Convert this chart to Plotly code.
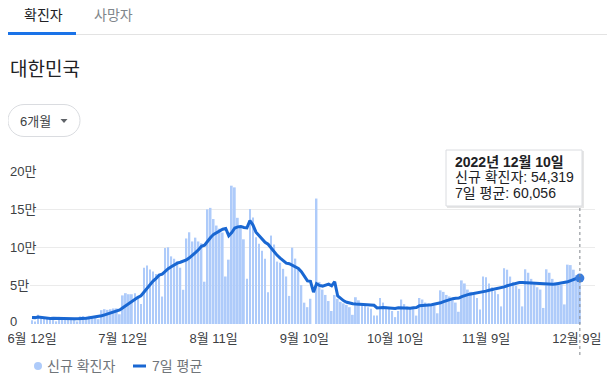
import plotly.graph_objects as go
import pandas as pd

# ---------------- data ----------------
start_date = "2022-06-12"

daily_cases = [
    5000, 3200, 12200, 9400, 8000, 7200, 6100,
    6100, 3500, 9300, 7900, 7500, 6800, 6200,
    6200, 3400, 9900, 10500, 9600, 10700, 10000,
    10000, 6300, 18100, 19400, 18500, 19300, 20300,
    20400, 12700, 37400, 40300, 38900, 38900, 40300,
    35900, 26300, 73600, 76400, 71200, 68600, 65400,
    65400, 35900, 99300, 100300, 88400, 85300, 82000,
    73600, 44700, 111800, 119900, 107900, 112900, 107900,
    105500, 55300, 149900, 151800, 137200, 128700, 124600,
    119600, 62100, 84100, 180800, 178600, 138800, 128700,
    110700, 59000, 150300, 139300, 113300, 105000, 95600,
    85300, 41400, 115600, 103900, 81600, 80100, 72100,
    62100, 36700, 99800, 85500, 71500, 50900, 27900,
    22000, 33000, 0, 164000, 55000, 45000, 38000,
    30000, 17000, 38000, 33000, 29000, 27000, 25000,
    22000, 12000, 35000, 31000, 27000, 25000, 22000,
    20000, 11000, 11000, 34000, 28000, 23000, 20000,
    17000, 9000, 17000, 32000, 26000, 23000, 21000,
    20000, 11000, 34000, 32000, 28000, 27000, 25000,
    24000, 14000, 44000, 42000, 38000, 36000, 34000,
    28000, 16000, 57000, 53000, 45000, 42000, 38000,
    34000, 19000, 62000, 61000, 53000, 48000, 43000,
    39000, 23000, 72900, 71000, 62000, 55000, 50000,
    46000, 23000, 71500, 67000, 59000, 52000, 48000,
    45000, 21000, 71500, 67000, 59000, 55000, 52000,
    51000, 25600, 77600, 77000, 71000, 63900, 54319,
]

avg_7day = [
    8540, 8340, 9200, 8630, 8060, 7630, 7300,
    7460, 7500, 7090, 6870, 6800, 6740, 6760,
    6770, 6760, 6840, 7210, 7510, 8070, 8610,
    9160, 9570, 10740, 12010, 13290, 14510, 15990,
    17470, 18390, 21140, 24130, 27040, 29840, 32700,
    34910, 36860, 42030, 47190, 51800, 56040, 59630,
    63840, 65210, 68890, 72300, 74760, 77140, 79510,
    80690, 81940, 83730, 86530, 89310, 93260, 96960,
    101510, 103030, 108470, 113030, 117210, 119470, 121860,
    123870, 124840, 115440, 119590, 125500, 126940, 127530,
    126260, 125810, 135270, 129340, 120010, 115190, 110460,
    106830, 104310, 99360, 94300, 89770, 86210, 82860,
    79540, 78870, 76610, 73990, 72540, 68370, 62060,
    56330, 55800, 41540, 52760, 50400, 49560, 51000,
    52140, 49860, 55290, 36570, 32860, 30290, 28430,
    27290, 26570, 26140, 25860, 25570, 25290, 24860,
    24570, 24430, 21000, 21430, 21570, 21290, 21000,
    20570, 20290, 21140, 20860, 20570, 20570, 20710,
    21140, 21430, 23860, 23860, 24140, 24710, 25290,
    25860, 26290, 27710, 29140, 30570, 31860, 33140,
    33710, 34000, 35860, 37430, 38430, 39290, 39860,
    40710, 41140, 41860, 43000, 44140, 45000, 45710,
    46430, 47000, 48560, 49990, 51270, 52270, 53270,
    54270, 54270, 54070, 53500, 53070, 52640, 52360,
    52210, 51930, 51930, 51930, 51930, 52360, 52930,
    53790, 54440, 55310, 56740, 58460, 59730, 60056,
]

xtick_dates = ["2022-06-12", "2022-07-12", "2022-08-11", "2022-09-10",
               "2022-10-10", "2022-11-09", "2022-12-09"]
xtick_labels = ["6월 12일", "7월 12일", "8월 11일", "9월 10일",
                "10월 10일", "11월 9일", "12월 9일"]
ytick_vals = [0, 50000, 100000, 150000, 200000]
ytick_labels = ["0", "5만", "10만", "15만", "20만"]

series_names = ["신규 확진자", "7일 평균"]
tab_labels = ["확진자", "사망자"]
region_title = "대한민국"
period_label = "6개월"

# ---------------- styling / layout geometry ----------------
FONT = "Liberation Sans, Arial, Noto Sans CJK KR, sans-serif"
BAR_C = "#aecbfa"
LINE_C = "#1967d2"
OFF = 8                      # page body margin of the html page
W, H = 615 - OFF, 383 - OFF  # figure size
# plot area in screen pixels: x 30..595, y 171..324
ML = 30 - OFF
MT = 171 - OFF
MR = W - (595 - OFF)
MB = H - (324 - OFF)
PW, PH = W - ML - MR, H - MT - MB


def px(x, y):
    """screen pixel -> paper coords"""
    return (x - OFF - ML) / PW, (H - MB - (y - OFF)) / PH


def pstr(x, y):
    a, b = px(x, y)
    return f"{a:.5f},{b:.5f}"


def text(t, x, y, size, color, xanchor="left", yref="paper", yval=None, bold=False):
    xp, yp = px(x, y)
    return dict(text=f"<b>{t}</b>" if bold else t, x=xp, y=yp if yval is None else yval,
                xref="paper", yref=yref, xanchor=xanchor, yanchor="middle",
                showarrow=False, font=dict(size=size, color=color, family=FONT))


dates = pd.date_range(start_date, periods=len(daily_cases), freq="D")
day = pd.Timedelta(days=1)

fig = go.Figure()
fig.add_trace(go.Bar(
    x=dates, y=daily_cases, marker=dict(color=BAR_C, line=dict(width=0)),
    width=0.6 * 86400000, name=series_names[0], hoverinfo="skip"))
fig.add_trace(go.Scatter(
    x=dates, y=avg_7day, mode="lines", name=series_names[1],
    line=dict(color=LINE_C, width=3), hoverinfo="skip"))
fig.add_trace(go.Scatter(
    x=[dates[-1]], y=[avg_7day[-1]], mode="markers",
    marker=dict(color="#3b7ddd", size=9), hoverinfo="skip"))

shapes = []
annotations = []

# tabs
annotations.append(text(tab_labels[0], 22, 15, 14, "#202124"))
annotations.append(text(tab_labels[1], 92, 15, 14, "#80868b"))
x0, y0 = px(76, 34.5)
x1, _ = px(615, 34.5)
shapes.append(dict(type="line", xref="paper", yref="paper", x0=x0, x1=x1, y0=y0, y1=y0,
                   line=dict(color="#e3e3e3", width=1)))
bx0, by0 = px(7, 35)
bx1, by1 = px(76, 32)
shapes.append(dict(type="rect", xref="paper", yref="paper", x0=bx0, x1=bx1, y0=by0, y1=by1,
                   fillcolor="#1a73e8", line=dict(width=0)))

# title
annotations.append(text(region_title, 8, 70, 19, "#202124"))

# dropdown pill
L, R, T, B = 8, 80, 104.5, 136.5
r = (B - T) / 2
k = 0.5523 * r
cy = (T + B) / 2
path = (f"M {pstr(L + r, T)} L {pstr(R - r, T)} "
        f"C {pstr(R - r + k, T)} {pstr(R, cy - k)} {pstr(R, cy)} "
        f"C {pstr(R, cy + k)} {pstr(R - r + k, B)} {pstr(R - r, B)} "
        f"L {pstr(L + r, B)} "
        f"C {pstr(L + r - k, B)} {pstr(L, cy + k)} {pstr(L, cy)} "
        f"C {pstr(L, cy - k)} {pstr(L + r - k, T)} {pstr(L + r, T)} Z")
shapes.append(dict(type="path", xref="paper", yref="paper", path=path,
                   line=dict(color="#dadce0", width=1), fillcolor="rgba(0,0,0,0)"))
annotations.append(text(period_label, 18, 121, 13, "#3c4043"))
tri = f"M {pstr(60.5, 119)} L {pstr(67.5, 119)} L {pstr(64, 123)} Z"
shapes.append(dict(type="path", xref="paper", yref="paper", path=tri,
                   line=dict(width=0), fillcolor="#5f6368"))

# y tick labels (left aligned like the reference)
for v, t in zip(ytick_vals, ytick_labels):
    annotations.append(text(t, 8, 0, 13, "#3c4043", yref="y",
                            yval=v + (3000 if v == 0 else 0)))

# custom legend
lgx, lgy = 38, 366
dx0, dy0 = px(lgx - 4, lgy + 4)
dx1, dy1 = px(lgx + 4, lgy - 4)
shapes.append(dict(type="circle", xref="paper", yref="paper", x0=dx0, x1=dx1, y0=dy0, y1=dy1,
                   fillcolor=BAR_C, line=dict(width=0)))
annotations.append(text(series_names[0], 45, lgy, 14, "#70757a"))
lx0, ly0 = px(133, lgy)
lx1, _ = px(146, lgy)
shapes.append(dict(type="line", xref="paper", yref="paper", x0=lx0, x1=lx1, y0=ly0, y1=ly0,
                   line=dict(color=LINE_C, width=3)))
annotations.append(text(series_names[1], 150, lgy, 14, "#70757a"))

# hover guide line
_, gy0 = px(0, 355)
_, gy1 = px(0, 206)
shapes.append(dict(type="line", xref="x", yref="paper", x0=dates[-1], x1=dates[-1],
                   y0=gy0, y1=gy1, line=dict(color="#80868b", width=1, dash="dot"), layer="above"))

# tooltip box
sx0, sy0 = px(447, 208)
sx1, sy1 = px(584, 151)
shapes.append(dict(type="rect", xref="paper", yref="paper", x0=sx0, x1=sx1, y0=sy0, y1=sy1,
                   fillcolor="#e6e6e6", line=dict(width=0)))
tx0, ty0 = px(446, 206)
tx1, ty1 = px(582, 150)
shapes.append(dict(type="rect", xref="paper", yref="paper", x0=tx0, x1=tx1, y0=ty0, y1=ty1,
                   fillcolor="white", line=dict(color="#dadce0", width=1)))
d = dates[-1]
annotations.append(text(f"{d.year}년 {d.month}월 {d.day}일", 453, 161.5, 14, "#202124", bold=True))
annotations.append(text(f"{series_names[0]}: {daily_cases[-1]:,}", 453, 177, 14, "#202124"))
annotations.append(text(f"{series_names[1]}: {avg_7day[-1]:,}", 453, 192.5, 14, "#202124"))

fig.update_layout(
    width=W, height=H,
    margin=dict(l=ML, r=MR, t=MT, b=MB, pad=0, autoexpand=False),
    paper_bgcolor="white", plot_bgcolor="white",
    font=dict(family=FONT, size=13, color="#3c4043"),
    shapes=shapes, annotations=annotations,
    hovermode=False,
    showlegend=False,
    xaxis=dict(type="date", range=[dates[0] - 0.66 * day, dates[0] + 186 * day],
               tickvals=xtick_dates, ticktext=xtick_labels, showgrid=False,
               showline=False, zeroline=False, ticks="", automargin=False,
               ticklabeloverflow="allow", ticklabelstandoff=5,
               tickfont=dict(size=13, color="#3c4043", family=FONT)),
    yaxis=dict(range=[0, 200000], tickvals=ytick_vals, showticklabels=False,
               showgrid=True, gridcolor="#ebebeb", gridwidth=1, zeroline=False,
               showline=False, ticks="", automargin=False),
)

fig.write_html("out.html")
